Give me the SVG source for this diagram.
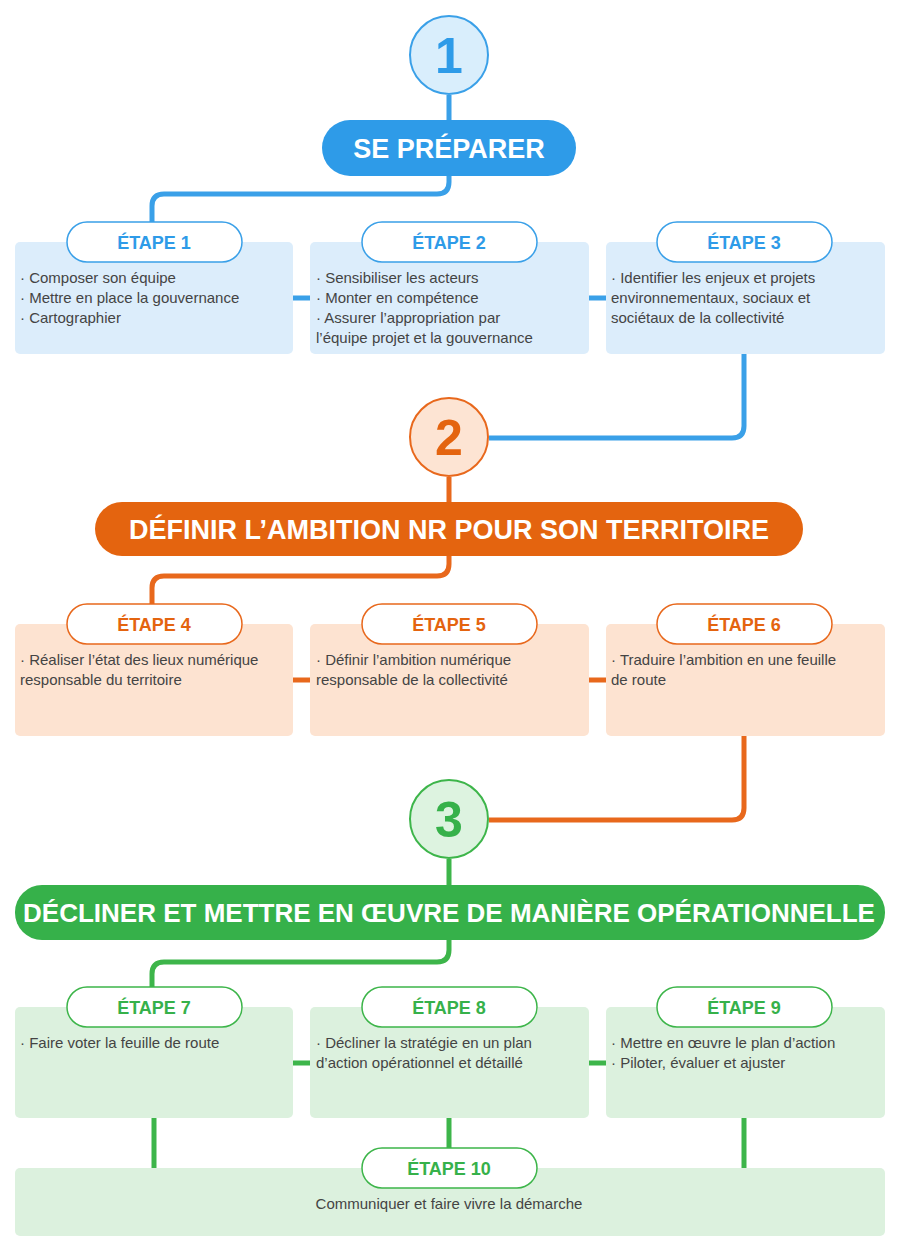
<svg xmlns="http://www.w3.org/2000/svg" width="900" height="1250" viewBox="0 0 900 1250">
<style>
text{font-family:"Liberation Sans",Arial,sans-serif}
.num{font-size:50px;font-weight:bold;text-anchor:middle}
.ph{font-size:27px;font-weight:bold;fill:#fff;text-anchor:middle}
.et{font-size:18px;font-weight:bold;text-anchor:middle}
.tx{font-size:15px;fill:#444}
.b{stroke:#3aa0e8}.bf{fill:#2e9be8}
.o{stroke:#e8681c}.of{fill:#e4640f}
.g{stroke:#3db54a}.gf{fill:#36b14a}
.ln{fill:none;stroke-width:5;stroke-linejoin:round}
.pill{fill:#fff;stroke-width:1.5}
</style>
<g id="connectors">
<path class="ln b" d="M449 95V120M449 176V182Q449 194 437 194H164Q152 194 152 206V222M293 298H310M589 298H606M744 354V426Q744 438 732 438H489"/>
<path class="ln o" d="M449 477V502M449 556V564Q449 576 437 576H164Q152 576 152 588V604M293 680H310M589 680H606M744 736V808Q744 820 732 820H489"/>
<path class="ln g" d="M449 859V885M449 940V950Q449 962 437 962H164Q152 962 152 974V987M293 1063H310M589 1063H606M154 1118V1168M449 1118V1148M744 1118V1168"/>
</g>
<g id="phase1">
<circle cx="449" cy="55" r="39" fill="#d9eefc" stroke="#3aa0e8" stroke-width="2"/>
<text class="num" x="449" y="73" fill="#2e9be8">1</text>
<rect class="bf" x="322" y="120" width="254" height="56" rx="28"/>
<text class="ph" x="449" y="158">SE PRÉPARER</text>
</g>
<g id="etape1"><rect x="15" y="242" width="278" height="112" rx="5" fill="#dcedfb"/>
<rect class="pill b" x="67" y="222" width="175" height="40" rx="20"/><text class="et" x="154" y="249" fill="#2e9be8">ÉTAPE 1</text>
<text class="tx" x="20" y="283">· Composer son équipe</text><text class="tx" x="20" y="303">· Mettre en place la gouvernance</text><text class="tx" x="20" y="323">· Cartographier</text></g>
<g id="etape2"><rect x="310" y="242" width="279" height="112" rx="5" fill="#dcedfb"/>
<rect class="pill b" x="362" y="222" width="175" height="40" rx="20"/><text class="et" x="449" y="249" fill="#2e9be8">ÉTAPE 2</text>
<text class="tx" x="316" y="283">· Sensibiliser les acteurs</text><text class="tx" x="316" y="303">· Monter en compétence</text><text class="tx" x="316" y="323">· Assurer l’appropriation par</text><text class="tx" x="316" y="343">l’équipe projet et la gouvernance</text></g>
<g id="etape3"><rect x="606" y="242" width="279" height="112" rx="5" fill="#dcedfb"/>
<rect class="pill b" x="657" y="222" width="175" height="40" rx="20"/><text class="et" x="744" y="249" fill="#2e9be8">ÉTAPE 3</text>
<text class="tx" x="611" y="283">· Identifier les enjeux et projets</text><text class="tx" x="611" y="303">environnementaux, sociaux et</text><text class="tx" x="611" y="323">sociétaux de la collectivité</text></g>
<g id="phase2">
<circle cx="449" cy="437" r="39" fill="#fde4d3" stroke="#e8681c" stroke-width="2"/>
<text class="num" x="449" y="455" fill="#e4640f">2</text>
<rect class="of" x="95" y="502" width="708" height="54" rx="27"/>
<text class="ph" x="449" y="539">DÉFINIR L’AMBITION NR POUR SON TERRITOIRE</text>
</g>
<g id="etape4"><rect x="15" y="624" width="278" height="112" rx="5" fill="#fde3d1"/>
<rect class="pill o" x="67" y="604" width="175" height="40" rx="20"/><text class="et" x="154" y="631" fill="#e4640f">ÉTAPE 4</text>
<text class="tx" x="20" y="665">· Réaliser l’état des lieux numérique</text><text class="tx" x="20" y="685">responsable du territoire</text></g>
<g id="etape5"><rect x="310" y="624" width="279" height="112" rx="5" fill="#fde3d1"/>
<rect class="pill o" x="362" y="604" width="175" height="40" rx="20"/><text class="et" x="449" y="631" fill="#e4640f">ÉTAPE 5</text>
<text class="tx" x="316" y="665">· Définir l’ambition numérique</text><text class="tx" x="316" y="685">responsable de la collectivité</text></g>
<g id="etape6"><rect x="606" y="624" width="279" height="112" rx="5" fill="#fde3d1"/>
<rect class="pill o" x="657" y="604" width="175" height="40" rx="20"/><text class="et" x="744" y="631" fill="#e4640f">ÉTAPE 6</text>
<text class="tx" x="611" y="665">· Traduire l’ambition en une feuille</text><text class="tx" x="611" y="685">de route</text></g>
<g id="phase3">
<circle cx="449" cy="819" r="39" fill="#ddf3e0" stroke="#3db54a" stroke-width="2"/>
<text class="num" x="449" y="837" fill="#36b14a">3</text>
<rect class="gf" x="15" y="885" width="870" height="55" rx="27"/>
<text class="ph" x="449" y="922" style="font-size:26px">DÉCLINER ET METTRE EN ŒUVRE DE MANIÈRE OPÉRATIONNELLE</text>
</g>
<g id="etape7"><rect x="15" y="1007" width="278" height="111" rx="5" fill="#dcf1de"/>
<rect class="pill g" x="67" y="987" width="175" height="40" rx="20"/><text class="et" x="154" y="1014" fill="#36b14a">ÉTAPE 7</text>
<text class="tx" x="20" y="1048">· Faire voter la feuille de route</text></g>
<g id="etape8"><rect x="310" y="1007" width="279" height="111" rx="5" fill="#dcf1de"/>
<rect class="pill g" x="362" y="987" width="175" height="40" rx="20"/><text class="et" x="449" y="1014" fill="#36b14a">ÉTAPE 8</text>
<text class="tx" x="316" y="1048">· Décliner la stratégie en un plan</text><text class="tx" x="316" y="1068">d’action opérationnel et détaillé</text></g>
<g id="etape9"><rect x="606" y="1007" width="279" height="111" rx="5" fill="#dcf1de"/>
<rect class="pill g" x="657" y="987" width="175" height="40" rx="20"/><text class="et" x="744" y="1014" fill="#36b14a">ÉTAPE 9</text>
<text class="tx" x="611" y="1048">· Mettre en œuvre le plan d’action</text><text class="tx" x="611" y="1068">· Piloter, évaluer et ajuster</text></g>
<g id="etape10"><rect x="15" y="1168" width="870" height="68" rx="5" fill="#dcf1de"/>
<rect class="pill g" x="362" y="1148" width="175" height="40" rx="20"/><text class="et" x="449" y="1175" fill="#36b14a">ÉTAPE 10</text>
<text class="tx" x="449" y="1209" text-anchor="middle">Communiquer et faire vivre la démarche</text></g>
</svg>
